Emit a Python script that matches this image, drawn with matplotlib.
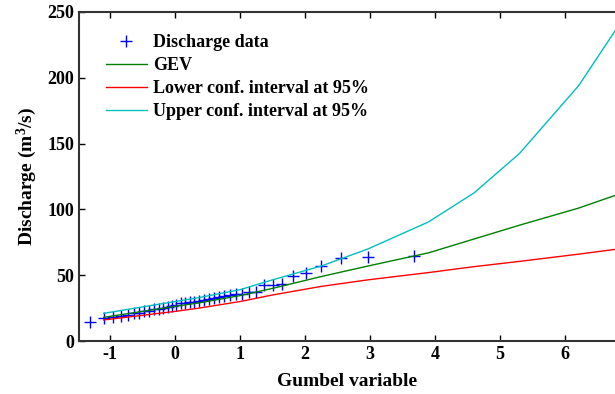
import matplotlib
matplotlib.use("Agg")
import matplotlib.pyplot as plt

# Gumbel reduced variate of the observed discharges (Weibull plotting positions)
gumbel_obs = [-1.305, -1.097, -0.952, -0.834, -0.732, -0.640, -0.556, -0.476,
              -0.400, -0.327, -0.255, -0.186, -0.117, -0.049, 0.019, 0.087,
              0.156, 0.225, 0.295, 0.367, 0.439, 0.514, 0.592, 0.672, 0.755,
              0.842, 0.934, 1.031, 1.134, 1.246, 1.367, 1.500, 1.648, 1.817,
              2.013, 2.250, 2.552, 2.970, 3.676]
discharge_obs = [14.5, 17.5, 18.0, 19.0, 20.0, 21.0, 21.5, 22.5, 23.0, 24.0,
                 24.5, 25.0, 25.5, 26.5, 27.5, 28.5, 29.0, 29.5, 30.0, 30.5,
                 31.0, 32.0, 32.5, 33.5, 34.0, 35.0, 35.5, 36.0, 37.0, 37.0,
                 42.5, 42.5, 43.0, 49.5, 51.5, 57.0, 63.0, 64.0, 64.5]

# fitted curves
gumbel_fit = [-1.1, 0.0, 0.37, 1.0, 1.5, 2.25, 2.97, 3.9, 4.6, 5.3, 6.21, 6.91]
gev = [18.0, 26.3, 29.0, 34.5, 40.0, 49.0, 57.0, 67.0, 77.5, 88.0, 101.0, 113.0]
lower95 = [16.0, 22.5, 25.0, 30.0, 35.0, 41.5, 46.5, 52.0, 56.5, 60.5, 66.0, 70.5]
upper95 = [21.0, 30.0, 33.0, 39.0, 46.5, 57.0, 70.0, 90.5, 112.5, 142.5, 194.0, 246.0]

plt.rcParams['font.family'] = ['Liberation Serif', 'DejaVu Serif']
plt.rcParams['font.weight'] = 'bold'
plt.rcParams['axes.unicode_minus'] = False
plt.rcParams['mathtext.fontset'] = 'custom'
plt.rcParams['mathtext.rm'] = 'Liberation Serif:bold'
plt.rcParams['mathtext.it'] = 'Liberation Serif:bold'
plt.rcParams['mathtext.bf'] = 'Liberation Serif:bold'

fig = plt.figure(figsize=(6.15, 3.94), dpi=100)
ax = fig.add_axes([79 / 615, 1 - 341 / 394, 1 - 79 / 615, (341 - 12) / 394])

ax.plot(gumbel_obs, discharge_obs, '+', color='#0000ff', markersize=8,
        markeredgewidth=1.0, label='Discharge data')
ax.plot(gumbel_fit, gev, color='#008000', lw=1.0, label='GEV')
ax.plot(gumbel_fit, lower95, color='#ff0000', lw=1.0,
        label='Lower conf. interval at 95%')
ax.plot(gumbel_fit, upper95, color='#00bfbf', lw=1.0,
        label='Upper conf. interval at 95%')

ax.set_xlim(-1.48, 6.77)
ax.set_ylim(0, 250)
ax.set_xticks([-1, 0, 1, 2, 3, 4, 5, 6])
ax.set_yticks([0, 50, 100, 150, 200, 250])
ax.tick_params(direction='in', top=True, labelsize=13, length=4, width=1)
for lab in ax.get_xticklabels() + ax.get_yticklabels():
    lab.set_fontweight('bold')
ax.spines['right'].set_visible(False)
for s in ['left', 'top', 'bottom']:
    ax.spines[s].set_linewidth(1.5)
    ax.spines[s].set_color('#333333')

ax.set_xlabel('Gumbel variable', fontsize=14, fontweight='bold', labelpad=7)
ax.set_ylabel('Discharge (m$^3$/s)', fontsize=14, fontweight='bold', labelpad=6)

ax.legend(loc='upper left', bbox_to_anchor=(0.036, 0.955), frameon=False,
          handlelength=2.3, handletextpad=0.33,
          labelspacing=0.34, borderaxespad=0.0,
          prop={'weight': 'bold', 'size': 13})

fig.savefig('out.png', dpi=100)
